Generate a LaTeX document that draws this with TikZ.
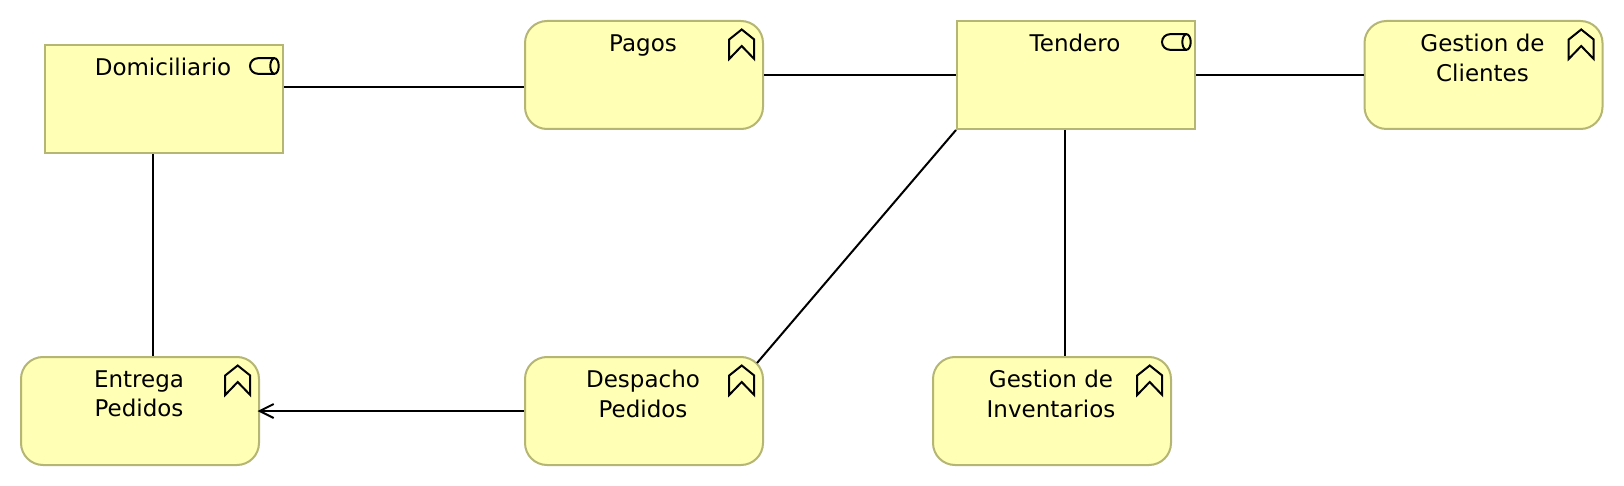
\documentclass[tikz,border=0pt]{standalone}
\usepackage{fontspec}
\setmainfont{DejaVu Sans}
\usetikzlibrary{arrows.meta,calc}
\definecolor{fillY}{HTML}{FFFFB5}
\definecolor{edgeY}{HTML}{B5B574}
\tikzset{
  base/.style={draw=edgeY,fill=fillY,line width=2pt,minimum width=238pt,minimum height=108pt,inner sep=0pt},
  actor/.style={base},
  func/.style={base,rounded corners=22pt},
  lab/.style={anchor=north,inner sep=0pt,xshift=-1pt,yshift=-14.2pt,align=center,text=black,font=\fontsize{23}{29.5}\selectfont},
  conn/.style={draw=black,line width=2pt},
  ico/.style={draw=black,line width=2pt,line join=miter}
}
\newcommand{\chev}[1]{%
  \draw[ico] ($(#1.north east)+(-22.3,9.5)$) -- ++(12.5,10) -- ++(0,19.5) -- ++(-12.5,-13) -- ++(-12.5,13) -- ++(0,-19.5) -- cycle;
}
\newcommand{\cyl}[1]{%
  \draw[ico] ($(#1.north east)+(-9.5,14.2)$) -- ++(-16.5,0) arc[start angle=270,end angle=90,x radius=8,y radius=7.8] -- ++(16.5,0);
  \draw[ico] ($(#1.north east)+(-9.5,22)$) ellipse[x radius=4.2,y radius=7.8];
}
\begin{document}
\begin{tikzpicture}[x=1pt,y=-1pt]
\useasboundingbox (0,0) rectangle (1624,486);
\node[actor] (dom) at (164,99) {};
\node[func] (pag) at (644,75) {};
\node[actor] (ten) at (1076,75) {};
\node[func] (cli) at (1483.5,75) {};
\node[func] (ent) at (140,411) {};
\node[func] (des) at (644,411) {};
\node[func] (inv) at (1052,411) {};
\node[lab] (domL) at (dom.north) {Domiciliario};
\node[lab] (pagL) at (pag.north) {Pagos};
\node[lab] (tenL) at (ten.north) {Tendero};
\node[lab] (cliL) at (cli.north) {Gestion de\\Clientes};
\node[lab] (entL) at (ent.north) {Entrega\\Pedidos};
\node[lab] (desL) at (des.north) {Despacho\\Pedidos};
\node[lab] (invL) at (inv.north) {Gestion de\\Inventarios};
\coordinate (yA) at (0,87);
\coordinate (xA) at (153,0);
\coordinate (xB) at (1065,0);
\coordinate (desC) at (757,363);
\draw[conn] (dom.east |- yA) -- (pag.west |- yA);
\draw[conn] (pag.east) -- (ten.west);
\draw[conn] (ten.east) -- (cli.west);
\draw[conn] (dom.south -| xA) -- (ent.north -| xA);
\draw[conn] (ten.south -| xB) -- (inv.north -| xB);
\draw[conn] (ten.south west) -- (desC);
\draw[conn,shorten >=-2.5pt,-{Straight Barb[length=14pt,width=14pt,line width=2pt]}] (des.west) -- (ent.east);
\chev{pag}\chev{cli}\chev{ent}\chev{des}\chev{inv}
\cyl{dom}\cyl{ten}
\end{tikzpicture}
\end{document}
